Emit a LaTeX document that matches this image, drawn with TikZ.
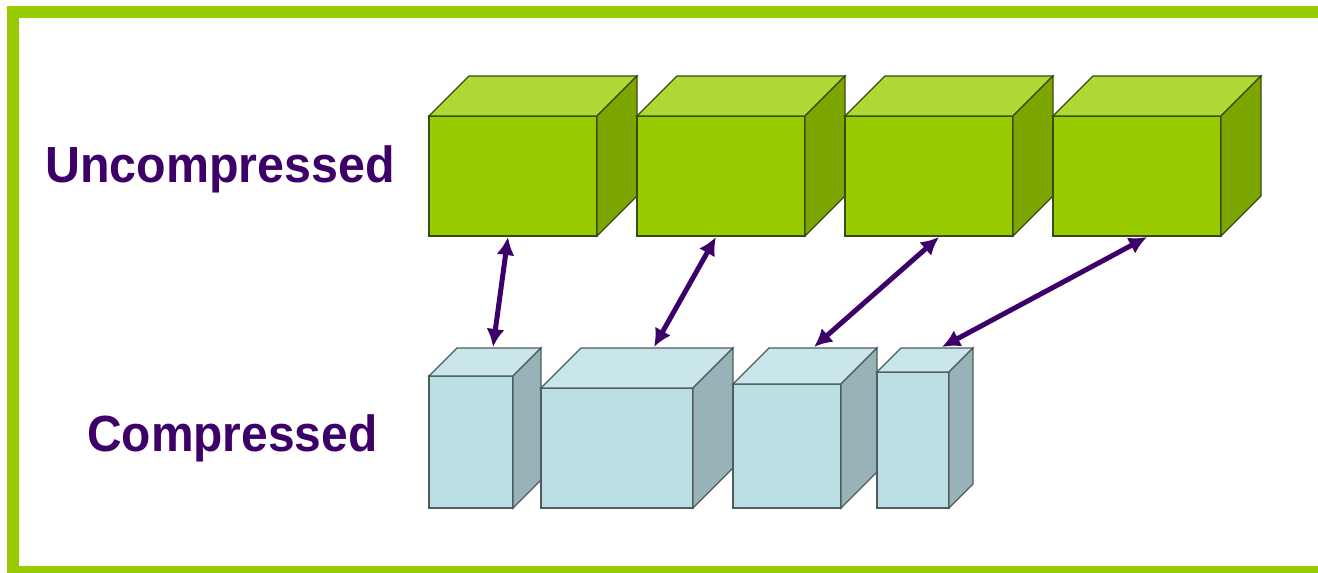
\documentclass[tikz,border=0pt]{standalone}
\usepackage{fontspec}
\setmainfont{Liberation Sans}
\usetikzlibrary{arrows.meta,calc}
\definecolor{frameGreen}{HTML}{99CC00}
\definecolor{gFront}{HTML}{99CC00}
\definecolor{gTop}{HTML}{B0D836}
\definecolor{gSide}{HTML}{7DA500}
\definecolor{gEdge}{HTML}{3A4A12}
\definecolor{bFront}{HTML}{B9DFE3}
\definecolor{bTop}{HTML}{C9E6EA}
\definecolor{bSide}{HTML}{97B3B7}
\definecolor{bEdge}{HTML}{505C5C}
\definecolor{labelPurple}{HTML}{3C0068}
\tikzset{
  labeltext/.style={anchor=base west, inner sep=0pt, text=labelPurple,
    font=\fontsize{48.4}{58}\selectfont\bfseries},
  linkarrow/.style={draw=labelPurple, line width=5pt,
    {Latex[length=18pt,width=18pt]}-{Latex[length=18pt,width=18pt]}},
}
% #1 name, #2 x, #3 front top y, #4 width, #5 height, #6 depth, #7 colour prefix
\newcommand\drawblock[7]{%
  \begin{scope}[draw=#7Edge, line width=1.3pt, line join=miter]
    \filldraw[fill=#7Front] (#2,#3) rectangle ++(#4,#5);
    \filldraw[fill=#7Top] (#2,#3) -- ++(#6,-#6) -- ++(#4,0) -- ++(-#6,#6) -- cycle;
    \filldraw[fill=#7Side] (#2+#4,#3) -- ++(#6,-#6) -- ++(0,#5) -- ++(-#6,#6) -- cycle;
  \end{scope}
  \coordinate (#1-nw) at (#2,#3);
}
\begin{document}
\begin{tikzpicture}[x=1pt,y=-1pt]
  \useasboundingbox (0,0) rectangle (1318,573);
  \clip (0,0) rectangle (1318,573);
  \fill[white] (0,0) rectangle (1318,573);
  \draw[frameGreen, line width=12pt] (13,12) rectangle (1340,572);

  % uncompressed cubes
  \drawblock{u1}{429}{116}{168}{120}{40}{g}
  \drawblock{u2}{637}{116}{168}{120}{40}{g}
  \drawblock{u3}{845}{116}{168}{120}{40}{g}
  \drawblock{u4}{1053}{116}{168}{120}{40}{g}

  % compressed blocks
  \drawblock{c1}{429}{376}{84}{132}{28}{b}
  \drawblock{c2}{541}{388}{152}{120}{40}{b}
  \drawblock{c3}{733}{384}{108}{124}{36}{b}
  \drawblock{c4}{877}{372}{72}{136}{24}{b}

  % labels
  \node[labeltext] (lu) at (45,182) {\scalebox{1}[1.05]{Uncompressed}};
  \node[labeltext] (lc) at (87,451) {\scalebox{0.99}[1.05]{Compressed}};

  % connector end points
  \coordinate (a1t) at ($(u1-nw)+(79,121)$);
  \coordinate (a2t) at ($(u2-nw)+(79,121)$);
  \coordinate (a3t) at ($(u3-nw)+(94,121)$);
  \coordinate (a4t) at ($(u4-nw)+(94,121)$);
  \coordinate (a1b) at (493,347);
  \coordinate (a2b) at (654,347);
  \coordinate (a3b) at (814,347);
  \coordinate (a4b) at (942,347);

  \draw[linkarrow] (a1b) -- (a1t);
  \draw[linkarrow] (a2b) -- (a2t);
  \draw[linkarrow] (a3b) -- (a3t);
  \draw[linkarrow] (a4b) -- (a4t);
\end{tikzpicture}
\end{document}
